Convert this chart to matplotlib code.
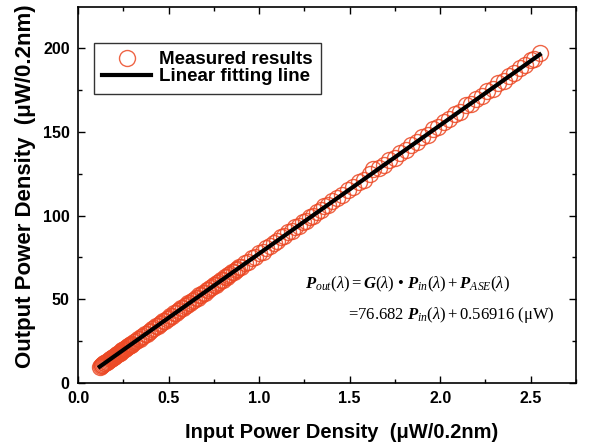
import matplotlib
matplotlib.use("Agg")
import matplotlib.pyplot as plt
from matplotlib.ticker import MultipleLocator
import numpy as np

# ── Data ──────────────────────────────────────────────────────────────────────
p_in = [
    0.120, 0.125, 0.130, 0.135, 0.140, 0.145, 0.150, 0.155, 0.160, 0.165,
    0.170, 0.175, 0.180, 0.185, 0.190, 0.195, 0.200, 0.205, 0.210, 0.215,
    0.220, 0.225, 0.230, 0.235, 0.240, 0.245, 0.250, 0.255, 0.260, 0.265,
    0.270, 0.275, 0.280, 0.285, 0.290, 0.295, 0.300,
    0.31, 0.32, 0.33, 0.34, 0.35, 0.36, 0.37, 0.38, 0.39, 0.40,
    0.41, 0.42, 0.43, 0.44, 0.45, 0.46, 0.47, 0.48, 0.49, 0.50,
    0.51, 0.52, 0.53, 0.54, 0.55, 0.56, 0.57, 0.58, 0.59, 0.60,
    0.61, 0.62, 0.63, 0.64, 0.65, 0.66, 0.67, 0.68, 0.69, 0.70,
    0.71, 0.72, 0.73, 0.74, 0.75, 0.76, 0.77, 0.78, 0.79, 0.80,
    0.81, 0.82, 0.83, 0.84, 0.85, 0.86, 0.87, 0.88, 0.89, 0.90,
    0.92, 0.94, 0.96, 0.98, 1.00, 1.02, 1.04, 1.06, 1.08, 1.10,
    1.12, 1.14, 1.16, 1.18, 1.20, 1.22, 1.24, 1.26, 1.28, 1.30,
    1.32, 1.34, 1.36, 1.38, 1.40,
    1.43, 1.46, 1.49, 1.52, 1.55, 1.58, 1.61, 1.63, 1.66, 1.69,
    1.72, 1.75, 1.78, 1.81, 1.84, 1.87, 1.90, 1.93, 1.96, 1.99,
    2.02, 2.05, 2.08, 2.11, 2.14, 2.17, 2.20, 2.23, 2.26, 2.29,
    2.32, 2.35, 2.38, 2.41, 2.44, 2.47, 2.50, 2.52, 2.55,
]
p_out = [
    9.6, 10.3, 10.5, 11.0, 11.2, 11.8, 12.0, 12.6, 12.7, 13.3,
    13.5, 14.1, 14.3, 14.9, 15.0, 15.6, 15.8, 16.4, 16.6, 17.2,
    17.3, 17.9, 18.1, 18.7, 18.9, 19.5, 19.6, 20.3, 20.4, 21.0,
    21.2, 21.8, 21.9, 22.6, 22.7, 23.3, 23.5,
    24.5, 25.0, 26.0, 26.5, 27.6, 28.0, 29.1, 29.5, 30.7, 31.0,
    32.3, 32.6, 33.8, 34.1, 35.3, 35.6, 36.9, 37.1, 38.4, 38.7,
    39.9, 40.2, 41.5, 41.7, 43.0, 43.3, 44.6, 44.8, 46.1, 46.3,
    47.7, 47.9, 49.2, 49.4, 50.8, 50.9, 52.3, 52.5, 53.8, 54.0,
    55.4, 55.5, 56.9, 57.1, 58.5, 58.6, 60.0, 60.1, 61.6, 61.7,
    63.1, 63.2, 64.6, 64.8, 66.2, 66.3, 67.7, 67.8, 69.2, 69.4,
    71.5, 72.4, 74.6, 75.4, 77.7, 78.5, 80.8, 81.6, 83.8, 84.6,
    86.9, 87.7, 90.0, 90.8, 93.1, 93.8, 96.1, 96.9, 99.2, 99.9,
    102.3, 103.0, 105.4, 106.0, 108.4,
    110.6, 112.3, 115.3, 116.9, 119.9, 121.5, 124.5, 127.6, 128.3, 130.0,
    133.0, 134.5, 137.6, 139.1, 142.2, 143.7, 146.8, 148.3, 151.4, 152.9,
    155.9, 157.5, 160.6, 162.1, 165.8, 166.6, 169.8, 171.2, 174.3, 175.8,
    179.0, 180.4, 183.6, 185.0, 188.2, 189.7, 192.8, 193.6, 197.2,
]
fit_slope = 76.682
fit_intercept = 0.56916

# ── Style ─────────────────────────────────────────────────────────────────────
plt.rcParams["font.family"] = ["Liberation Sans", "DejaVu Sans"]
plt.rcParams["mathtext.fontset"] = "custom"
plt.rcParams["mathtext.rm"] = "Liberation Serif"
plt.rcParams["mathtext.it"] = "Liberation Serif:italic"
plt.rcParams["mathtext.bf"] = "Liberation Serif:bold"
plt.rcParams["mathtext.bfit"] = "Liberation Serif:bold:italic"

fig = plt.figure(figsize=(5.97, 4.47), dpi=100)
ax = fig.add_axes([0.1307, 0.1432, 0.8341, 0.8411])

ax.plot(p_in, p_out, "o", markersize=11.5, markerfacecolor="none",
        markeredgecolor="#ec4a26", markeredgewidth=1.0, alpha=0.85,
        label="Measured results")
xf = np.array([min(p_in), max(p_in)])
ax.plot(xf, fit_slope * xf + fit_intercept, "-", color="black", linewidth=3,
        label="Linear fitting line")

# ── Axes ──────────────────────────────────────────────────────────────────────
ax.set_xlim(0, 2.75)
ax.set_ylim(0, 224.5)
ax.xaxis.set_major_locator(MultipleLocator(0.5))
ax.xaxis.set_minor_locator(MultipleLocator(0.25))
ax.yaxis.set_major_locator(MultipleLocator(50))
ax.yaxis.set_minor_locator(MultipleLocator(25))
ax.xaxis.set_major_formatter(plt.FuncFormatter(lambda v, p: f"{v:.1f}"))
ax.tick_params(which="both", direction="in", top=True, right=True, width=1)
ax.tick_params(which="major", length=5, labelsize=11.5)
ax.tick_params(which="minor", length=3)
ax.tick_params(axis="x", pad=6)
ax.tick_params(axis="y", pad=6)
for lbl in ax.get_xticklabels() + ax.get_yticklabels():
    lbl.set_fontweight("bold")
for sp in ax.spines.values():
    sp.set_linewidth(1.2)

ax.set_xlabel("Input Power Density  (\u03bcW/0.2nm)", fontsize=14.5,
              fontweight="bold")
ax.set_ylabel("Output Power Density  (\u03bcW/0.2nm)", fontsize=16,
              fontweight="bold")
ax.xaxis.set_label_coords(0.53, -0.133, transform=ax.transAxes)
ax.xaxis.label.set_va("center")
ax.yaxis.set_label_coords(-0.106, 0.524, transform=ax.transAxes)
ax.yaxis.label.set_va("center")

leg = ax.legend(loc="upper left", bbox_to_anchor=(0.032, 0.905),
                frameon=True, fancybox=False, edgecolor="black",
                handlelength=2.6, handletextpad=0.4, borderpad=0.45,
                labelspacing=0.0, borderaxespad=0,
                prop={"weight": "bold", "size": 13.5})
leg.get_frame().set_linewidth(1.0)

# ── Fit equation ──────────────────────────────────────────────────────────────
eq1 = (r"$\mathbfit{P}_{out}(\lambda) = \mathbfit{G}(\lambda)$ " + "\u2022 "
       + r"$\mathbfit{P}_{in}(\lambda) + \mathbfit{P}_{ASE}(\lambda)$")
eq2 = ("=" + f"{fit_slope:.3f}" + r" $\mathbfit{P}_{in}(\lambda) + $"
       + f"{fit_intercept:.5f} (\u03bcW)")
ax.text(0.456, 0.261, eq1, transform=ax.transAxes, fontsize=12, va="center",
        family="Liberation Serif")
ax.text(0.542, 0.181, eq2, transform=ax.transAxes, fontsize=12, va="center",
        family="Liberation Serif")

fig.savefig("out.png", dpi=100)
